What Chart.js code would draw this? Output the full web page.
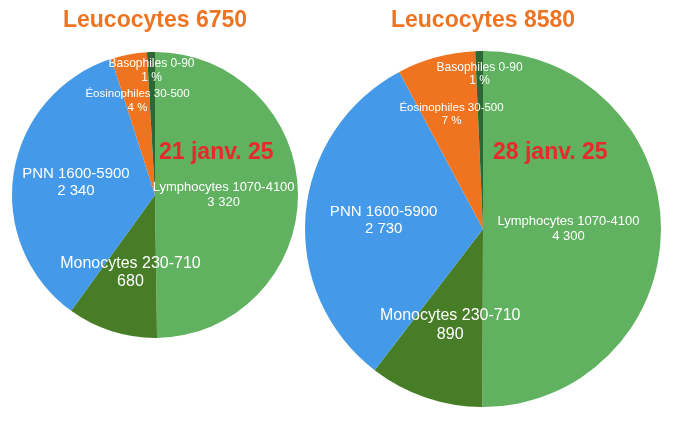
<!DOCTYPE html>
<html>
<head>
<meta charset="utf-8">
<script src="https://cdn.jsdelivr.net/npm/chart.js@4.4.1/dist/chart.umd.min.js"></script>
<style>
  html, body { margin: 0; padding: 0; background: #fff; }
  #wrap { position: relative; width: 674px; height: 446px; }
  #wrap canvas { position: absolute; left: 0; top: 0; }
</style>
</head>
<body>
<div id="wrap">
  <canvas id="pieGauche" width="674" height="446"></canvas>
  <canvas id="pieDroite" width="674" height="446"></canvas>
</div>
<script>
/* --- Données --- */
const categories = ['Lymphocytes 1070-4100', 'Monocytes 230-710', 'PNN 1600-5900', 'Éosinophiles 30-500', 'Basophiles 0-90'];
const valeurs21janv = [3320, 680, 2340, 270, 60];
const valeurs28janv = [4300, 890, 2730, 610, 60];
const typeEtiquette = ['valeur', 'valeur', 'valeur', 'pourcent', 'pourcent'];
const titres = ['Leucocytes 6750', 'Leucocytes 8580'];
const dates = ['21 janv. 25', '28 janv. 25'];

const couleurs = ['#60b260', '#487d28', '#4499e8', '#f0741f', '#2c6834'];
const POLICE = '"Liberation Sans", Arial, Helvetica, sans-serif';

// "3320" -> "3 320"
function formatNombre(n) {
  return String(n).replace(/\B(?=(\d{3})+(?!\d))/g, ' ');
}

/* --- Plugin : titres, date et étiquettes des parts --- */
const etiquettesPlugin = {
  id: 'etiquettes',
  afterDatasetsDraw(chart, args, opts) {
    const ctx = chart.ctx;
    const meta = chart.getDatasetMeta(0);
    const data = chart.data.datasets[0].data;
    const total = data.reduce((a, b) => a + b, 0);
    const arc0 = meta.data[0];

    ctx.save();
    // titre
    ctx.fillStyle = '#ef7421';
    ctx.font = 'bold 23px ' + POLICE;
    ctx.textAlign = 'center';
    ctx.textBaseline = 'alphabetic';
    ctx.fillText(opts.titre, arc0.x, 27);

    // étiquettes des parts
    ctx.fillStyle = '#fff';
    ctx.textBaseline = 'middle';
    meta.data.forEach((arc, i) => {
      const mid = (arc.startAngle + arc.endAngle) / 2;
      const r = arc.outerRadius * opts.rayons[i];
      const x = arc.x + Math.cos(mid) * r;
      const y = arc.y + Math.sin(mid) * r;
      const taille = opts.tailles[i];
      const demi = taille * 0.57;
      const ligne2 = typeEtiquette[i] === 'pourcent'
        ? Math.round(data[i] / total * 100) + ' %'
        : formatNombre(data[i]);
      ctx.font = taille + 'px ' + POLICE;
      ctx.fillText(chart.data.labels[i], x, y - demi);
      ctx.fillText(ligne2, x, y + demi);
    });

    // date
    ctx.fillStyle = '#e8292b';
    ctx.font = 'bold 23px ' + POLICE;
    ctx.textAlign = 'left';
    ctx.textBaseline = 'alphabetic';
    ctx.fillText(opts.date, opts.dateX, opts.dateY);
    ctx.restore();
  }
};

function creerPie(id, valeurs, padding, titre, date, dateX) {
  return new Chart(document.getElementById(id), {
    type: 'pie',
    data: {
      labels: categories,
      datasets: [{
        data: valeurs,
        backgroundColor: couleurs,
        borderWidth: 0
      }]
    },
    options: {
      responsive: false,
      animation: false,
      layout: { padding: padding },
      plugins: {
        legend: { display: false },
        tooltip: { enabled: false },
        etiquettes: {
          titre: titre,
          date: date,
          dateX: dateX,
          dateY: 159,
          rayons: [0.48, 0.57, 0.56, 0.67, 0.87],
          tailles: [13, 16, 15, 11.5, 12]
        }
      }
    },
    plugins: [etiquettesPlugin]
  });
}

creerPie('pieGauche', valeurs21janv, { left: 12, right: 376, top: 52, bottom: 108 }, titres[0], dates[0], 159);
creerPie('pieDroite', valeurs28janv, { left: 305, right: 13, top: 51, bottom: 39 }, titres[1], dates[1], 493);
</script>
</body>
</html>
